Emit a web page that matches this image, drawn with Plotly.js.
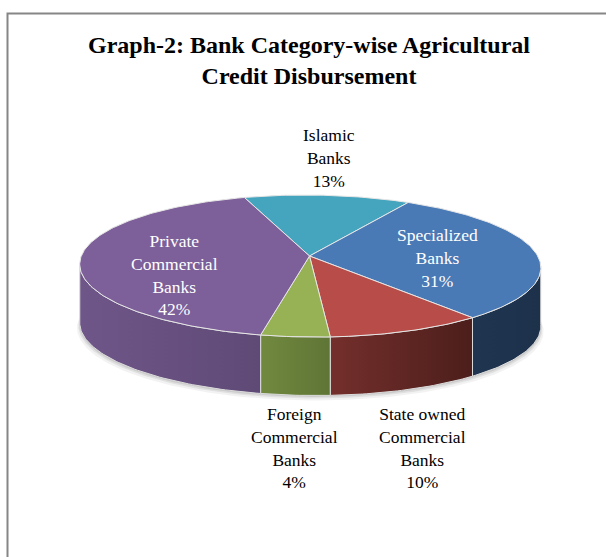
<!DOCTYPE html>
<html><head><meta charset="utf-8">
<script src="https://cdn.plot.ly/plotly-3.0.1.min.js"></script>
<style>html,body{margin:0;padding:0;background:#fff}</style></head>
<body><div id="chart" style="width:606px;height:557px"></div>
<script>
// Data, clockwise from the Islamic Banks slice
const categories = ["Islamic Banks","Specialized Banks","State owned Commercial Banks","Foreign Commercial Banks","Private Commercial Banks"];
const shares = [13.3, 31.0, 9.7, 4.2, 41.8];
const labelLines = ["Islamic<br>Banks","Specialized<br>Banks","State owned<br>Commercial<br>Banks","Foreign<br>Commercial<br>Banks","Private<br>Commercial<br>Banks"];
const topColors = ["#45A5BE","#4A7AB5","#B84C48","#97B155","#7D5F99"];
const wallFrom = ["#2C4D75","#1F3550","#742F2C","#71893F","#6F5689"];
const wallTo = ["#2C4D75","#1D314B","#4C1E1B","#5F7536","#5F4A76"];
const labelX = [329,437,422,294,174];
const labelY = [158,258,448,448,275];
const labelColors = ["#000","#fff","#000","#000","#fff"];

// Tilted-disc view
const startAngle = -17.5, cx = 309.5, cy = 256, A = 228.2, B = 69.6, k = 0.141, shear = 5.5, depth = 58.5;
const wallStart = 98, wallEnd = 262;
function project(deg, dy){
  const r = deg*Math.PI/180, u = Math.sin(r), v = Math.cos(r), w = 1+k*v;
  return [cx+(A*u-shear*v)/w, cy-B*v/w+(dy||0)];
}
function arc(a0,a1,dy){
  const n = Math.max(2,Math.ceil(Math.abs(a1-a0))), xs=[], ys=[];
  for(let i=0;i<=n;i++){const p=project(a0+(a1-a0)*i/n,dy); xs.push(p[0]); ys.push(p[1]);}
  return [xs,ys];
}
const total = shares.reduce((a,b)=>a+b,0);
let angle = startAngle;
const spans = shares.map(s=>{const a0=angle; angle+=s/total*360; return [a0,angle];});

const traces = [];
// soft shadow
[[5,0.05,1.012],[3,0.07,1.006],[1.5,0.09,1.002]].forEach(([off,op,sc])=>{
  const c = arc(wallStart-12,wallEnd+12,depth+off);
  traces.push({type:"scatter",mode:"lines",x:c[0].map(x=>cx+(x-cx)*sc),y:c[1],fill:"toself",
    fillcolor:`rgba(0,0,0,${op})`,line:{width:0},hoverinfo:"skip",showlegend:false});
});
// side walls
spans.forEach(([a0,a1],i)=>{
  const s=Math.max(a0,wallStart), e=Math.min(a1,wallEnd);
  if(e<=s) return;
  const t=arc(s,e,0), b=arc(e,s,depth);
  traces.push({type:"scatter",mode:"lines",name:categories[i],
    x:t[0].concat(b[0],[t[0][0]]),y:t[1].concat(b[1],[t[1][0]]),fill:"toself",
    fillgradient:{type:"horizontal",colorscale:[[0,wallFrom[i]],[1,wallTo[i]]]},
    fillcolor:wallFrom[i],line:{color:"#dcdcdc",width:1},hoverinfo:"skip",showlegend:false});
});
// top faces
spans.forEach(([a0,a1],i)=>{
  const t=arc(a0,a1,0);
  traces.push({type:"scatter",mode:"lines",name:categories[i],
    x:[cx].concat(t[0],[cx]),y:[cy].concat(t[1],[cy]),fill:"toself",fillcolor:topColors[i],
    line:{color:"#e6e6e6",width:1},hoverinfo:"name",showlegend:false});
});

const annotations = categories.map((c,i)=>({
  x:labelX[i],y:labelY[i],xref:"x",yref:"y",showarrow:false,align:"center",
  text:labelLines[i]+"<br>"+Math.round(shares[i])+"%",
  font:{family:"Liberation Serif, Times New Roman, serif",size:17.5,color:labelColors[i]}
}));

const layout = {
  width:606,height:557,margin:{l:0,r:0,t:0,b:0},paper_bgcolor:"#fff",plot_bgcolor:"#fff",showlegend:false,
  xaxis:{range:[0,606],visible:false,fixedrange:true},
  yaxis:{range:[557,0],visible:false,fixedrange:true},
  title:{text:"Graph-2: Bank Category-wise Agricultural<br>Credit Disbursement",
    font:{family:"Liberation Serif, Times New Roman, serif",size:24,color:"#000",weight:"bold"},
    x:309/606,xanchor:"center",y:0.905,yanchor:"middle"},
  annotations,
  shapes:[{type:"rect",xref:"x",yref:"y",x0:7.5,y0:13.5,x1:640,y1:640,line:{color:"#868686",width:2},layer:"below"}]
};
Plotly.newPlot("chart",traces,layout,{displayModeBar:false});
</script></body></html>
